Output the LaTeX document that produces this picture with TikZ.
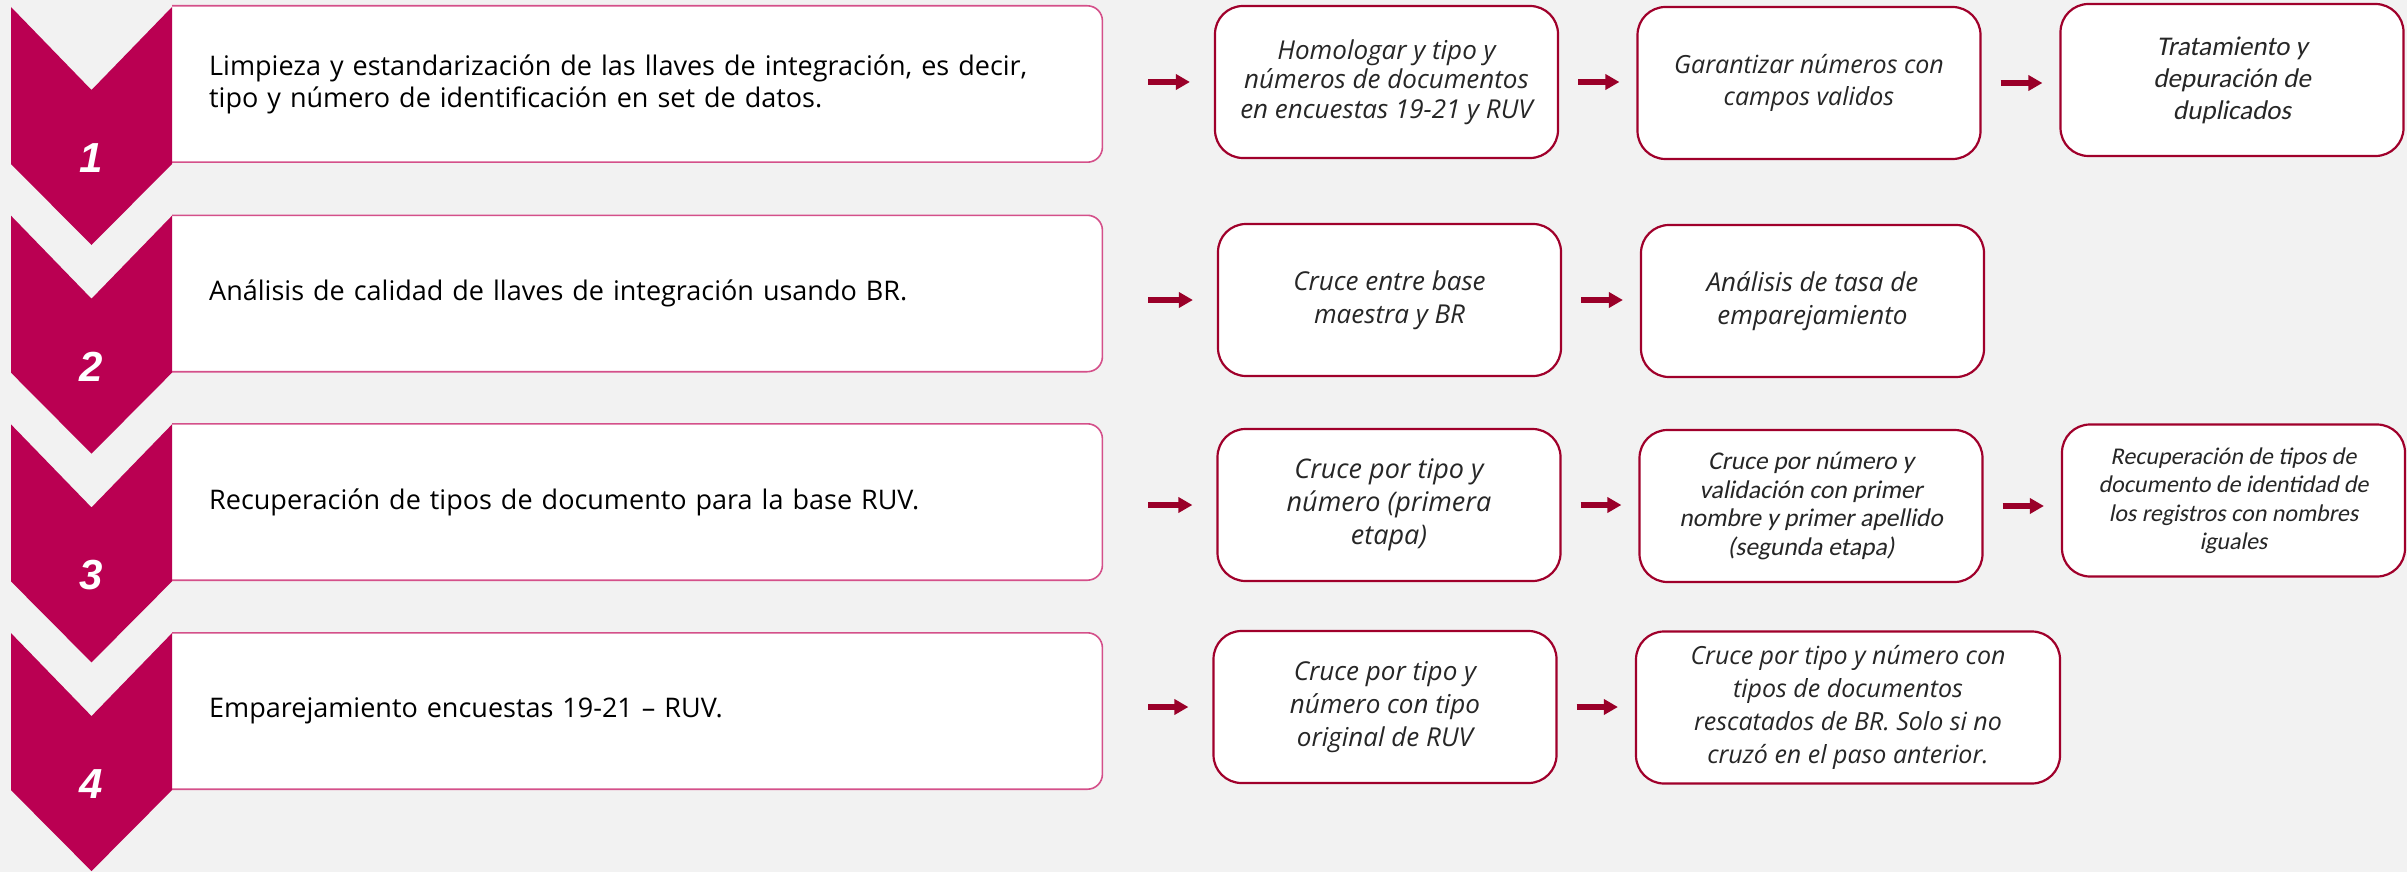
\documentclass[tikz,border=0pt]{standalone}
\usepackage{fontspec}
\setmainfont{Open Sans}
\newfontfamily\calibri{Carlito}[AutoFakeSlant=0.2]
\newfontfamily\numfont{Liberation Sans}
\usetikzlibrary{arrows.meta,backgrounds}
\definecolor{chevron}{HTML}{BA0052}
\definecolor{bordepaso}{HTML}{D4508A}
\definecolor{bordecaja}{HTML}{A0002B}
\definecolor{flechacol}{HTML}{9A0029}
\definecolor{fondo}{HTML}{F2F2F2}
\definecolor{textocaja}{HTML}{262626}
\begin{document}
\begin{tikzpicture}[x=1pt, y=-1pt,
	paso/.style = {shape=rectangle, anchor=west, minimum height=156pt, text width=856pt, inner xsep=37pt, inner ysep=0pt, align=left, font=\fontsize{27}{32}\selectfont},
	borde/.style = {draw=bordepaso, line width=1.6pt, fill=white, rounded corners=15pt},
	caja/.style = {shape=rectangle, rounded corners=28pt, draw=bordecaja, line width=2.2pt, fill=white, minimum width=343pt, minimum height=152pt, align=center, inner sep=0pt, text=textocaja, font=\fontsize{26}{33}\selectfont\itshape},
	cajac/.style = {caja, font=\fontsize{24}{28.5}\selectfont\calibri\itshape},
	flecha/.style = {draw=flechacol, line width=6pt, -{Triangle[length=14pt,width=15pt]}, shorten <=19pt, shorten >=17pt},
	numero/.style = {text=white, inner sep=0pt, font=\fontsize{42}{42}\selectfont\numfont\bfseries\itshape}]
	\useasboundingbox (0,0) rectangle (2407,872);
	\node[paso] (p1) at (172,84) {Limpieza y estandarización de las llaves de integración, es decir,\\tipo y número de identificación en set de datos.};
	\node[paso] (p2) at (172,293.5) {Análisis de calidad de llaves de integración usando BR.};
	\node[paso] (p3) at (172,502) {Recuperación de tipos de documento para la base RUV.};
	\node[paso] (p4) at (172,711) {Emparejamiento encuestas 19-21 -- RUV.};
	\begin{scope}[on background layer]
		\fill[fondo] (0,0) rectangle (2407,872);
		\foreach \p in {p1,p2,p3,p4}
			\path[borde] (\p.north west) -| (\p.south east) -- (\p.south west);
	\end{scope}
	\foreach \t [count=\n] in {7,215.7,424.4,633.1} {
		\fill[chevron] (11,\t) -- (91.5,\t+83) -- (172,\t) -- (172,\t+157) -- (91.5,\t+238) -- (11,\t+157) -- cycle;
		\node[numero] (n\n) at (91.5,\t+151) {\n};
	}
	\node[caja, font=\fontsize{26}{29.5}\selectfont\itshape] (c11) at (1386.5,82) {Homologar y tipo y\\números de documentos\\en encuestas 19-21 y RUV};
	\node[caja, font=\fontsize{25}{32}\selectfont\itshape] (c12) at (1809,83) {Garantizar números con\\campos validos};
	\node[cajac, font=\fontsize{27}{32}\selectfont\calibri\itshape] (c13) at (2232,80) {Tratamiento y\\depuración de\\duplicados};
	\node[caja, font=\fontsize{26}{33}\selectfont\itshape] (c21) at (1389.5,300) {Cruce entre base\\maestra y BR};
	\node[caja, font=\fontsize{26}{33}\selectfont\itshape] (c22) at (1812.5,301) {Análisis de tasa de\\emparejamiento};
	\node[caja, font=\fontsize{27}{33}\selectfont\itshape] (c31) at (1389,505) {Cruce por tipo y\\número (primera\\etapa)};
	\node[cajac, font=\fontsize{25.5}{28.5}\selectfont\calibri\itshape] (c32) at (1811,506) {Cruce por número y\\validación con primer\\nombre y primer apellido\\(segunda etapa)};
	\node[cajac] (c33) at (2233.5,500.5) {Recuperación de tipos de\\documento de identidad de\\los registros con nombres\\iguales};
	\node[caja] (c41) at (1385,707) {Cruce por tipo y\\número con tipo\\original de RUV};
	\node[caja, minimum width=424pt, font=\fontsize{25}{33}\selectfont\itshape] (c42) at (1848,707.5) {Cruce por tipo y número con\\tipos de documentos\\rescatados de BR. Solo si no\\cruzó en el paso anterior.};
	\draw[flecha, shorten <=46pt, shorten >=24pt] (p1.east |- c11.west) -- (c11.west);
	\draw[flecha] (c11.east) -- (c11.east -| c12.west);
	\draw[flecha] (c12.east) -- (c12.east -| c13.west);
	\draw[flecha, shorten <=46pt, shorten >=24pt] (p2.east |- c21.west) -- (c21.west);
	\draw[flecha] (c21.east) -- (c21.east -| c22.west);
	\draw[flecha, shorten <=46pt, shorten >=24pt] (p3.east |- c31.west) -- (c31.west);
	\draw[flecha] (c31.east) -- (c31.east -| c32.west);
	\draw[flecha] (c32.east) -- (c32.east -| c33.west);
	\draw[flecha, shorten <=46pt, shorten >=24pt] (p4.east |- c41.west) -- (c41.west);
	\draw[flecha] (c41.east) -- (c41.east -| c42.west);
\end{tikzpicture}
\end{document}
